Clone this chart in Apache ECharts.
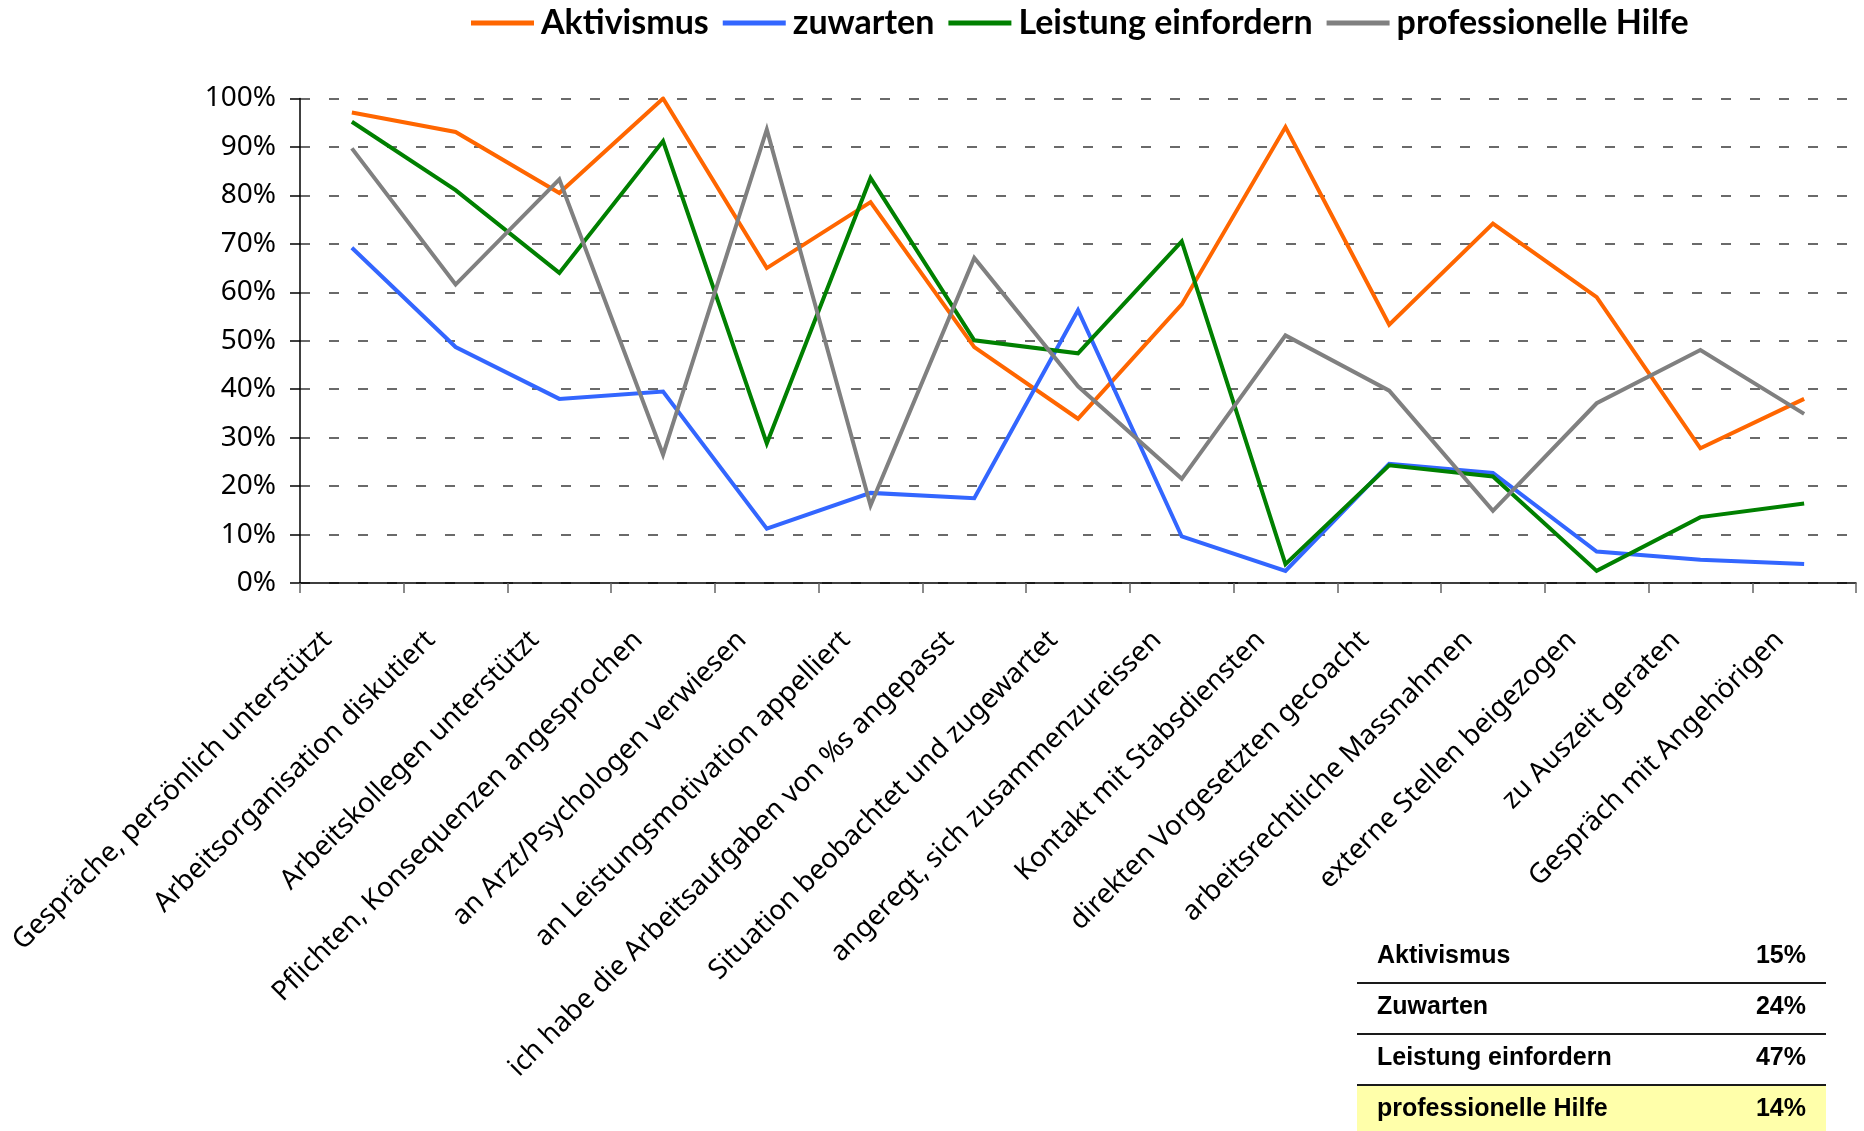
<!DOCTYPE html>
<html>
<head>
<meta charset="utf-8">
<title>Führungsverhalten nach Reaktionstyp</title>
<script src="https://cdn.jsdelivr.net/npm/echarts@6/dist/echarts.min.js"></script>
<style>
  html, body { margin: 0; padding: 0; background: #ffffff; }
  #chart { width: 1864px; height: 1131px; }
</style>
</head>
<body>
<div id="chart"></div>
<script>
// Massnahmen der Vorgesetzten (x-Achse)
const categories = [
  'Gespräche, persönlich unterstützt',
  'Arbeitsorganisation diskutiert',
  'Arbeitskollegen unterstützt',
  'Pflichten, Konsequenzen angesprochen',
  'an Arzt/Psychologen verwiesen',
  'an Leistungsmotivation appelliert',
  'ich habe die Arbeitsaufgaben von %s angepasst',
  'Situation beobachtet und zugewartet',
  'angeregt, sich zusammenzureissen',
  'Kontakt mit Stabsdiensten',
  'direkten Vorgesetzten gecoacht',
  'arbeitsrechtliche Massnahmen',
  'externe Stellen beigezogen',
  'zu Auszeit geraten',
  'Gespräch mit Angehörigen'
];

// Anteile in Prozent je Reaktionstyp
const aktivismus = [97.1, 93.1, 80.5, 100, 65.0, 78.6, 48.7, 33.9, 57.5, 94.1, 53.3, 74.2, 59.0, 27.8, 38.0];
const zuwarten = [69.2, 48.7, 38.0, 39.5, 11.2, 18.6, 17.5, 56.3, 9.6, 2.5, 24.6, 22.7, 6.5, 4.8, 3.9];
const leistungEinfordern = [95.2, 81.1, 64.0, 91.2, 28.8, 83.6, 50.1, 47.4, 70.5, 3.9, 24.3, 22.0, 2.5, 13.6, 16.4];
const professionelleHilfe = [89.7, 61.6, 83.3, 26.5, 93.6, 16.0, 67.1, 40.6, 21.5, 51.1, 39.7, 14.9, 37.1, 48.1, 34.9];

const seriesNames = ['Aktivismus', 'zuwarten', 'Leistung einfordern', 'professionelle Hilfe'];
const seriesColors = ['#FF6600', '#3366FF', '#008000', '#808080'];

// Y-Achse
const yTicks = [0, 10, 20, 30, 40, 50, 60, 70, 80, 90, 100];

// Verteilung der Reaktionstypen (Tabelle unten rechts)
const tableNames = ['Aktivismus', 'Zuwarten', 'Leistung einfordern', 'professionelle Hilfe'];
const tableShares = ['15%', '24%', '47%', '14%'];

const seriesData = [aktivismus, zuwarten, leistungEinfordern, professionelleHilfe];

const chart = echarts.init(document.getElementById('chart'), null, { renderer: 'canvas' });

// Tabelle als Grafik-Elemente
const tableLeft = 1357, tableRight = 1826, tableTop = 932, rowH = 51;
const tableGraphics = [];
tableNames.forEach((name, i) => {
  const y0 = tableTop + i * rowH;
  const highlighted = i === tableNames.length - 1;
  if (highlighted) {
    tableGraphics.push({
      type: 'rect', z: 1,
      shape: { x: tableLeft, y: y0, width: tableRight - tableLeft, height: 1131 - y0 },
      style: { fill: '#FFFFAA' }
    });
  }
  tableGraphics.push({
    type: 'text', z: 2, x: tableLeft + 20, y: y0 + rowH / 2 - 1,
    style: {
      text: name, fill: '#000', font: 'bold 25px "Liberation Sans", Arial, sans-serif',
      textAlign: 'left', textVerticalAlign: 'middle'
    }
  });
  tableGraphics.push({
    type: 'text', z: 2, x: tableRight - 20, y: y0 + rowH / 2 - 1,
    style: {
      text: tableShares[i], fill: '#000', font: 'bold 25px "Liberation Sans", Arial, sans-serif',
      textAlign: 'right', textVerticalAlign: 'middle'
    }
  });
  if (i < tableNames.length - 1) {
    tableGraphics.push({
      type: 'line', z: 2,
      shape: { x1: tableLeft, y1: y0 + rowH, x2: tableRight, y2: y0 + rowH },
      style: { stroke: '#1a1a1a', lineWidth: 2.2 }
    });
  }
});

const option = {
  backgroundColor: '#ffffff',
  animation: false,
  textStyle: { fontFamily: '"Noto Sans", sans-serif' },
  legend: {
    data: seriesNames,
    left: 466,
    top: 1,
    itemWidth: 63,
    itemHeight: 5,
    itemGap: 14,
    icon: 'rect',
    textStyle: {
      fontFamily: 'Lato, "Noto Sans", sans-serif',
      fontWeight: 'bold',
      fontSize: 34,
      color: '#000',
      padding: [0, 0, 0, 2]
    }
  },
  grid: {
    left: 300,
    right: 8,
    top: 98.5,
    bottom: 548,
    containLabel: false
  },
  xAxis: {
    type: 'category',
    data: categories,
    boundaryGap: true,
    axisLine: { show: true, lineStyle: { color: '#000', width: 1.5 } },
    axisTick: { show: true, length: 10, alignWithLabel: false, lineStyle: { color: '#666', width: 1.5 } },
    axisLabel: {
      interval: 0,
      rotate: 45,
      margin: 28,
      padding: [0, 35, 0, 0],
      fontFamily: '"Noto Sans", sans-serif',
      fontSize: 27.5,
      color: '#000'
    },
    splitLine: { show: false }
  },
  yAxis: {
    type: 'value',
    min: yTicks[0],
    max: yTicks[yTicks.length - 1],
    interval: yTicks[1] - yTicks[0],
    axisLine: { show: true, lineStyle: { color: '#000', width: 1.5 } },
    axisTick: { show: true, inside: false, length: 10, lineStyle: { color: '#000', width: 1.5 } },
    axisLabel: {
      margin: 24,
      padding: [8, 0, 0, 0],
      fontFamily: '"Noto Sans", sans-serif',
      fontSize: 28,
      color: '#000',
      formatter: '{value}%'
    },
    splitLine: {
      show: true,
      lineStyle: { color: '#3a3a3a', width: 1.6, type: [10, 19], dashOffset: 0 }
    }
  },
  series: seriesNames.map((name, i) => ({
    name: name,
    type: 'line',
    data: seriesData[i],
    showSymbol: false,
    symbol: 'none',
    color: seriesColors[i],
    lineStyle: { color: seriesColors[i], width: 4, join: 'miter', miterLimit: 4 },
    emphasis: { disabled: true }
  })),
  graphic: tableGraphics
};

chart.setOption(option);
</script>
</body>
</html>
